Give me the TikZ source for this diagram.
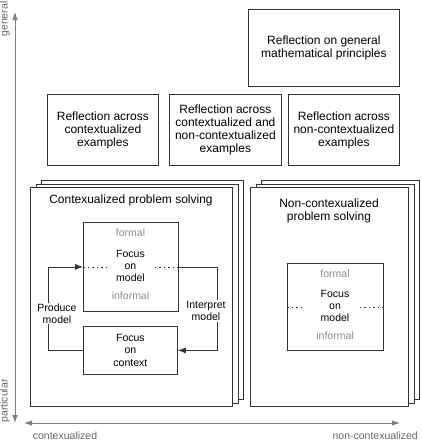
\documentclass[tikz,border=0pt]{standalone}
\usepackage{fontspec}
\setmainfont{Liberation Sans}
\usetikzlibrary{arrows.meta}
\definecolor{boxc}{HTML}{333333}
\definecolor{axisc}{HTML}{808080}
\definecolor{lightc}{HTML}{8C8C8C}
\definecolor{axtxt}{HTML}{666666}
\begin{document}
\begin{tikzpicture}[x=1pt,y=-1pt,
  box/.style={draw=boxc, line width=0.8pt, fill=white, anchor=north west, inner sep=0pt,
              font=\fontsize{12}{13}\selectfont, align=center},
  small/.style={font=\fontsize{10.5}{12}\selectfont, align=center, inner sep=0pt},
  graytxt/.style={small, text=lightc},
  title/.style={font=\fontsize{12}{13}\selectfont, align=center, inner sep=0pt},
  axis/.style={draw=axisc, line width=0.8pt, {Latex[length=8pt,width=5.5pt]}-{Latex[length=8pt,width=5.5pt]}},
  conn/.style={draw=boxc, line width=0.8pt, -{Latex[length=8pt,width=6pt]}},
  dots/.style={draw=boxc, line width=0.7pt, dash pattern=on 1.5pt off 3pt},
  axlabel/.style={font=\fontsize{10.5}{12}\selectfont, text=axtxt, inner sep=0pt},
]
\useasboundingbox (0,0) rectangle (422,447);

% top boxes
\node[box, minimum width=151pt, minimum height=77pt] (gen) at (248,9) {Reflection on general\\mathematical principles};
\node[box, minimum width=111pt, minimum height=71pt] (rc) at (47,94) {Reflection across\\contextualized\\examples};
\node[box, minimum width=112pt, minimum height=71pt] (rb) at (169,94) {Reflection across\\contextualized and\\non-contextualized\\examples};
\node[box, minimum width=111pt, minimum height=71pt] (rn) at (288,94) {Reflection across\\non-contextualized\\examples};

% left stack
\node[box, minimum width=202pt, minimum height=219pt] (lp3) at (41,180) {};
\node[box, minimum width=202pt, minimum height=219pt] (lp2) at (35.5,183.5) {};
\node[box, minimum width=202pt, minimum height=219pt] (lp1) at (30,187) {};
\node[title] (lt) at (131,200) {Contexualized problem solving};

% right stack
\node[box, minimum width=158pt, minimum height=219pt] (rp3) at (261,180) {};
\node[box, minimum width=158pt, minimum height=219pt] (rp2) at (255.5,183.5) {};
\node[box, minimum width=158pt, minimum height=219pt] (rp1) at (250,187) {};
\node[title] (rt) at (329,211) {Non-contexualized\\problem solving};

% left inner boxes
\node[box, minimum width=95pt, minimum height=89pt] (modL) at (83,222) {};
\node[graytxt] (fL) at (130.5,233) {formal};
\node[small] (mL) at (130.5,266) {Focus\\on\\model};
\node[graytxt] (iL) at (130.5,296) {informal};
\draw[dots] (modL.west) -- ++(25,0);
\draw[dots] (modL.east) -- ++(-25,0);

\node[box, minimum width=94pt, minimum height=48pt, font=\fontsize{10.5}{12.5}\selectfont] (ctxL) at (83,326) {Focus\\on\\context};

\draw[conn] (ctxL.west) -- ++(-35,0) |- (modL.west);
\draw[conn] (modL.east) -- ++(39,0) |- (ctxL.east);
\node[small, fill=white, inner sep=1pt] (prod) at (57,313.5) {Produce\\model};
\node[small, fill=white, inner sep=1pt] (interp) at (206,311) {Interpret\\model};

% right inner box
\node[box, minimum width=96pt, minimum height=87pt] (modR) at (287,263) {};
\node[graytxt] (fR) at (335,274) {formal};
\node[small] (mR) at (335,306) {Focus\\on\\model};
\node[graytxt] (iR) at (335,336) {informal};
\draw[dots] (modR.west) -- ++(18,0);
\draw[dots] (modR.east) -- ++(-25,0);

% axes
\coordinate (ytop) at (15,12);
\coordinate (ybot) at (15,423);
\coordinate (xl) at (24,423);
\coordinate (xr) at (400,423);
\draw[axis] (ytop) -- (ybot);
\draw[axis] (xl) -- (xr);
\node[axlabel, rotate=90] (lgen) at (5,19) {general};
\node[axlabel, rotate=90] (lpart) at (5,401) {particular};
\node[axlabel] (lctx) at (65,436) {contexualized};
\node[axlabel, anchor=east] (lnctx) at (418,436) {non-contexualized};
\end{tikzpicture}
\end{document}
